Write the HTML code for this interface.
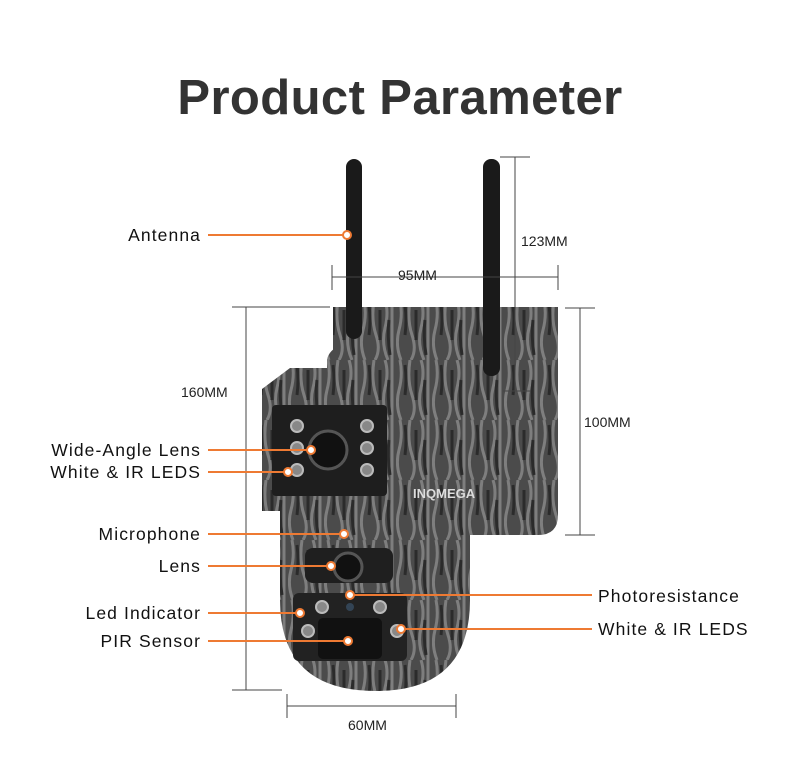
<!DOCTYPE html>
<html><head><style>
body{margin:0;width:800px;height:757px;background:#fff;position:relative;overflow:hidden;font-family:"Liberation Sans",sans-serif}
.t{position:absolute;left:0;width:800px;top:70px;text-align:center;font-size:49px;font-weight:bold;color:#333;letter-spacing:0.4px}
.l{position:absolute;font-size:17.5px;color:#111;white-space:nowrap;letter-spacing:1.1px}
.r{text-align:right;width:201px;left:0}
.m{position:absolute;font-size:14px;color:#222}
</style></head><body>
<div class="t">Product Parameter</div>
<svg width="800" height="757" style="position:absolute;left:0;top:0">
<defs><pattern id="bark" width="36" height="60" patternUnits="userSpaceOnUse">
<rect width="36" height="60" fill="#4b4b4b"/>
<path d="M4 0q3 15 -1 30t2 30M14 0q-3 20 2 35t-1 25M25 0q4 12 0 28t3 32M32 0v60" stroke="#7e7e7e" stroke-width="3" fill="none"/>
<path d="M9 5q2 15 0 30M20 10v30M29 20q-2 15 1 35" stroke="#2b2b2b" stroke-width="3" fill="none"/>
</pattern></defs>
<path d="M333 307H558V515Q558 535 538 535H333Z" fill="url(#bark)"/>
<path d="M327 360Q330 337 400 335Q478 338 482 360V370H327Z" fill="url(#bark)"/>
<path d="M262 389L290 368H470L482 389V511H262Z" fill="url(#bark)"/>
<rect x="272" y="405" width="115" height="91" rx="4" fill="#1e1e1e"/>
<path d="M280 511H470V600Q470 691 376 691Q280 691 280 600Z" fill="url(#bark)"/>
<rect x="305" y="548" width="88" height="35" rx="8" fill="#1f1f1f"/>
<rect x="293" y="593" width="114" height="68" rx="6" fill="#222"/>
<rect x="318" y="618" width="64" height="41" rx="5" fill="#111"/>
<rect x="346" y="159" width="16" height="180" rx="8" fill="#1a1a1a"/>
<rect x="483" y="159" width="17" height="217" rx="8" fill="#1a1a1a"/>
<g fill="#888" stroke="#bbb" stroke-width="2">
<circle cx="297" cy="426" r="6"/><circle cx="297" cy="448" r="6"/><circle cx="297" cy="470" r="6"/>
<circle cx="367" cy="426" r="6"/><circle cx="367" cy="448" r="6"/><circle cx="367" cy="470" r="6"/>
<circle cx="322" cy="607" r="6"/><circle cx="380" cy="607" r="6"/><circle cx="308" cy="631" r="6"/><circle cx="397" cy="631" r="6"/>
</g>
<circle cx="328" cy="450" r="19" fill="#111" stroke="#555" stroke-width="3"/>
<circle cx="348" cy="567" r="14" fill="#111" stroke="#555" stroke-width="3"/>
<circle cx="350" cy="607" r="4" fill="#345"/>
<text x="413" y="498" font-family="Liberation Sans" font-size="13" font-weight="bold" fill="#ddd">INQMEGA</text>
<g stroke="#444" stroke-width="1" fill="none">
<path d="M332 277H558M332 265V290M558 265V290"/>
<path d="M515 157V391M500 157H530M503 391H530"/>
<path d="M580 308V535M565 308H595M565 535H595"/>
<path d="M246 307V690M232 307H330M232 690H282"/>
<path d="M287 706H456M287 694V718M456 694V718"/>
</g>
<g stroke="#ee7a33" stroke-width="2">
<path d="M208 235H347M208 450H311M208 472H288M208 534H344M208 566H331M208 613H300M208 641H348M350 595H592M401 629H592"/>
</g>
<g fill="#fff" stroke="#ee7a33" stroke-width="2">
<circle cx="347" cy="235" r="4"/><circle cx="311" cy="450" r="4"/><circle cx="288" cy="472" r="4"/><circle cx="344" cy="534" r="4"/><circle cx="331" cy="566" r="4"/><circle cx="300" cy="613" r="4"/><circle cx="348" cy="641" r="4"/><circle cx="350" cy="595" r="4"/><circle cx="401" cy="629" r="4"/>
</g>
</svg>
<div class="l r" style="top:225px">Antenna</div>
<div class="l r" style="top:440px">Wide-Angle Lens</div>
<div class="l r" style="top:462px">White &amp; IR LEDS</div>
<div class="l r" style="top:524px">Microphone</div>
<div class="l r" style="top:556px">Lens</div>
<div class="l r" style="top:603px">Led Indicator</div>
<div class="l r" style="top:631px">PIR Sensor</div>
<div class="l" style="left:598px;top:586px">Photoresistance</div>
<div class="l" style="left:598px;top:619px">White &amp; IR LEDS</div>
<div class="m" style="left:398px;top:267px">95MM</div>
<div class="m" style="left:521px;top:233px">123MM</div>
<div class="m" style="left:584px;top:414px">100MM</div>
<div class="m" style="left:181px;top:384px">160MM</div>
<div class="m" style="left:348px;top:717px">60MM</div>
</body></html>
